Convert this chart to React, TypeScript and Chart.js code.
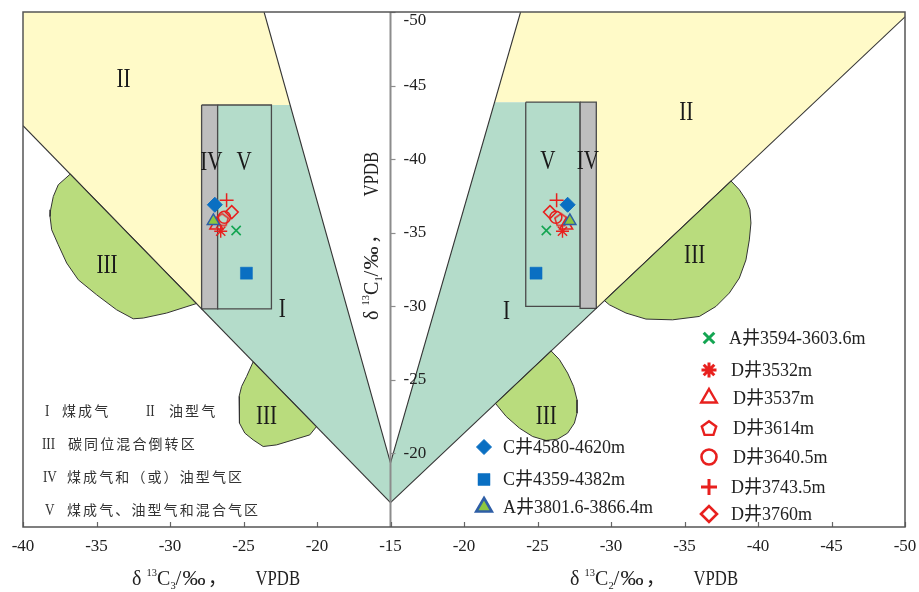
import React, { useEffect, useRef } from 'react';
import { Chart, registerables } from 'chart.js';
import { drawPoint } from 'chart.js/helpers';

Chart.register(...registerables);

// ---------- axes ----------
const C1_MIN = -50;
const C1_MAX = -15;
const C3_TICKS = [-40, -35, -30, -25, -20, -15];
const C2_TICKS = [-20, -25, -30, -35, -40, -45, -50];
const C1_TICKS = [-50, -45, -40, -35, -30, -25, -20];

// ---------- samples ----------
const SAMPLE_NAMES = [
  'A井3594-3603.6m', 'D井3532m', 'D井3537m', 'D井3614m', 'D井3640.5m',
  'D井3743.5m', 'D井3760m', 'C井4580-4620m', 'C井4359-4382m', 'A井3801.6-3866.4m',
];
const SAMPLE_C1 = [-35.15, -35.1, -35.5, -35.9, -36.05, -37.2, -36.4, -36.9, -32.25, -35.8];
const SAMPLE_C2 = [-25.6, -26.7, -26.95, -26.6, -26.25, -26.3, -25.85, -27.05, -24.9, -27.2];
const SAMPLE_C3 = [-25.5, -26.55, -26.85, -26.45, -26.3, -26.15, -25.8, -26.95, -24.8, -27.05];

// ---------- regions (left: [δ13C3, δ13C1], right: [δ13C2, δ13C1]) ----------
const L_OIL = [[-40, -50], [-23.6, -50], [-21.83, -43.68], [-27.85, -43.68], [-27.85, -29.83], [-40, -42.28]];
const L_COAL = [[-27.85, -43.68], [-21.83, -43.68], [-15, -19.36], [-15, -16.66], [-27.85, -29.83]];
const L_IV = [[-27.85, -43.68], [-26.76, -43.68], [-26.76, -29.83], [-27.85, -29.83]];
const L_V = [[-26.76, -43.68], [-23.1, -43.68], [-23.1, -29.83], [-26.76, -29.83]];
const L_MIX_UP = [[-36.78, -38.99], [-37.6, -38.26], [-37.94, -37.46], [-38.12, -36.56], [-38.16, -36.1], [-38.05, -35.2], [-37.6, -34.18], [-37.03, -32.94], [-36.24, -31.8], [-34.99, -30.78], [-33.63, -29.76], [-32.5, -29.15], [-31.82, -29.2], [-30.23, -29.54], [-28.19, -30.19]];
const L_MIX_LOW = [[-24.34, -26.23], [-24.79, -25.23], [-25.13, -24.55], [-25.3, -23.87], [-25.3, -22.96], [-25.25, -22.06], [-24.91, -21.38], [-24.34, -20.92], [-23.66, -20.47], [-22.75, -20.58], [-21.62, -20.92], [-20.49, -21.26], [-20.03, -21.83]];
const L_LINE_A = [[-40, -42.28], [-15, -16.66]];
const L_LINE_B = [[-23.6, -50], [-15, -19.36]];

const R_OIL = [[-23.85, -50], [-50, -50], [-50, -49.67], [-29.0, -29.86], [-29.0, -43.87], [-22.08, -43.87]];
const R_COAL = [[-22.08, -43.87], [-29.0, -43.87], [-29.0, -29.86], [-15, -16.66], [-15, -19.36]];
const R_V = [[-24.2, -43.87], [-27.9, -43.87], [-27.9, -30.0], [-24.2, -30.0]];
const R_IV = [[-27.9, -43.87], [-29.0, -43.87], [-29.0, -29.86], [-27.9, -29.86]];
const R_MIX_UP = [[-38.16, -38.52], [-38.73, -37.92], [-39.18, -37.24], [-39.45, -36.56], [-39.52, -35.66], [-39.41, -34.51], [-39.18, -33.15], [-38.73, -31.92], [-38.05, -30.9], [-37.14, -29.99], [-36.01, -29.31], [-34.19, -29.08], [-32.38, -29.13], [-31.02, -29.54], [-29.89, -30.1], [-29.55, -30.39]];
const R_MIX_LOW = [[-25.92, -26.97], [-26.49, -26.38], [-27.05, -25.46], [-27.46, -24.55], [-27.69, -23.64], [-27.69, -22.74], [-27.51, -22.06], [-27.05, -21.38], [-26.37, -20.97], [-25.58, -20.88], [-24.67, -21.15], [-23.77, -21.72], [-22.87, -22.51], [-22.14, -23.4]];
const R_LINE_A = [[-15, -16.66], [-50, -49.67]];
const R_LINE_B = [[-15, -19.36], [-23.85, -50]];

// region labels
const L_LABELS: [string, number, number][] = [['II', -33.17, -45.4], ['IV', -27.19, -39.76], ['V', -24.96, -39.76], ['III', -34.29, -32.77], ['I', -22.37, -29.76], ['III', -23.43, -22.47]];
const R_LABELS: [string, number, number][] = [['II', -35.12, -43.13], ['V', -25.71, -39.84], ['IV', -28.43, -39.84], ['III', -35.69, -33.39], ['I', -22.89, -29.65], ['III', -25.6, -22.51]];

// key text
const KEY_ROWS: [string, string][][] = [
  [['I', '煤成气'], ['II', '油型气']],
  [['III', '碳同位混合倒转区']],
  [['IV', '煤成气和（或）油型气区']],
  [['V', '煤成气、油型气和混合气区']],
];

// ---------- helpers ----------
const toLeft = (p: number[]) => ({ x: p[0] + 40, y: p[1] });
const toRight = (p: number[]) => ({ x: 10 - p[0], y: p[1] });

const SERIF = '"Liberation Serif", "Times New Roman", serif';
const CJK = '"Noto Sans CJK SC", sans-serif';
const MIXED = '"Liberation Serif", "Noto Sans CJK SC", serif';

const YELLOW = '#fffac8';
const TEAL = '#b4dcca';
const GREEN = '#b9dc7d';
const GRAY = '#bebebe';
const EDGE = '#333333';
const RED = '#e8201e';
const BLUE = '#0a6fc2';

function makePentagon(size: number, color: string, lw: number) {
  const c = document.createElement('canvas');
  c.width = size;
  c.height = size;
  const g = c.getContext('2d')!;
  g.strokeStyle = color;
  g.lineWidth = lw;
  g.lineJoin = 'miter';
  const r = size / 2 - lw;
  const cy = size / 2 + r * 0.1;
  g.beginPath();
  for (let i = 0; i < 5; i++) {
    const a = -Math.PI / 2 + (i * 2 * Math.PI) / 5;
    const px = size / 2 + r * Math.cos(a);
    const py = cy + r * Math.sin(a);
    if (i === 0) g.moveTo(px, py);
    else g.lineTo(px, py);
  }
  g.closePath();
  g.stroke();
  return c;
}

function polygon(points: number[][], conv: (p: number[]) => any, fill: string, border = 'rgba(0,0,0,0)', bw = 0) {
  const pts = points.map(conv);
  return {
    type: 'line',
    data: [...pts, pts[0]],
    fill: 'shape',
    backgroundColor: fill,
    borderColor: border,
    borderWidth: bw,
    pointRadius: 0,
    tension: 0,
    borderJoinStyle: 'miter',
  };
}

function segment(points: number[][], conv: (p: number[]) => any) {
  return {
    type: 'line',
    data: points.map(conv),
    fill: false,
    borderColor: EDGE,
    borderWidth: 1.1,
    pointRadius: 0,
    tension: 0,
  };
}

export default function App() {
  const ref = useRef<HTMLCanvasElement | null>(null);

  useEffect(() => {
    document.body.style.margin = '0';
    const canvas = ref.current!;

    const pentPlot = makePentagon(16, RED, 1.5);
    const pentKey = makePentagon(20, RED, 2.4);

    const STYLES: any[] = [
      { ps: 'crossRot', r: 6.5, bg: 'rgba(0,0,0,0)', bc: '#14a552', bw: 1.6, kps: 'crossRot', kr: 7.5, kbw: 3 },
      { ps: 'star', r: 6.5, bg: 'rgba(0,0,0,0)', bc: RED, bw: 1.4, kps: 'star', kr: 7.5, kbw: 3 },
      { ps: 'triangle', r: 7.5, bg: 'rgba(0,0,0,0)', bc: RED, bw: 1.5, kps: 'triangle', kr: 9, kbw: 2.4 },
      { ps: pentPlot, r: 7, bg: 'rgba(0,0,0,0)', bc: RED, bw: 1.5, kps: pentKey, kr: 9, kbw: 2.4 },
      { ps: 'circle', r: 6, bg: 'rgba(0,0,0,0)', bc: RED, bw: 1.5, kps: 'circle', kr: 7.5, kbw: 2.6 },
      { ps: 'cross', r: 7, bg: 'rgba(0,0,0,0)', bc: RED, bw: 1.5, kps: 'cross', kr: 8, kbw: 3 },
      { ps: 'rectRot', r: 6.5, bg: 'rgba(0,0,0,0)', bc: RED, bw: 1.5, kps: 'rectRot', kr: 8, kbw: 2.6 },
      { ps: 'rectRot', r: 7.5, bg: BLUE, bc: BLUE, bw: 1, kps: 'rectRot', kr: 7.5, kbw: 1 },
      { ps: 'rect', r: 8.5, bg: BLUE, bc: BLUE, bw: 0.5, kps: 'rect', kr: 8.5, kbw: 0.5 },
      { ps: 'triangle', r: 7, bg: '#8dc640', bc: '#2e5ea6', bw: 1.5, kps: 'triangle', kr: 9, kbw: 2.6 },
    ];

    const layers: any[] = [
      polygon(L_OIL, toLeft, YELLOW),
      polygon(R_OIL, toRight, YELLOW),
      polygon(L_COAL, toLeft, TEAL),
      polygon(R_COAL, toRight, TEAL),
      polygon(L_MIX_UP, toLeft, GREEN, EDGE, 1),
      polygon(L_MIX_LOW, toLeft, GREEN, EDGE, 1),
      polygon(R_MIX_UP, toRight, GREEN, EDGE, 1),
      polygon(R_MIX_LOW, toRight, GREEN, EDGE, 1),
      polygon(L_IV, toLeft, GRAY, '#4a4a4a', 1.3),
      polygon(L_V, toLeft, TEAL, '#4a4a4a', 1.3),
      polygon(R_V, toRight, TEAL, '#4a4a4a', 1.3),
      polygon(R_IV, toRight, GRAY, '#4a4a4a', 1.3),
      segment(L_LINE_A, toLeft),
      segment(L_LINE_B, toLeft),
      segment(R_LINE_A, toRight),
      segment(R_LINE_B, toRight),
    ];

    const drawOrder = [6, 4, 3, 2, 5, 1, 0, 9, 8, 7];
    drawOrder.forEach((i) => {
      const s = STYLES[i];
      layers.push({
        type: 'line',
        label: SAMPLE_NAMES[i],
        data: [toLeft([SAMPLE_C3[i], SAMPLE_C1[i]]), toRight([SAMPLE_C2[i], SAMPLE_C1[i]])],
        showLine: false,
        fill: false,
        pointStyle: s.ps,
        pointRadius: s.r,
        pointBackgroundColor: s.bg,
        pointBorderColor: s.bc,
        pointBorderWidth: s.bw,
      });
    });

    const N = layers.length;
    layers.forEach((d, i) => (d.order = N - i));

    const textRuns = (sub: string) => [
      { t: 'δ', dx: 0, size: 21, dy: 0, sx: 0.95 },
      { t: '13', dx: 14.5, size: 11, dy: -9, sx: 0.95 },
      { t: 'C', dx: 25, size: 21, dy: 0, sx: 0.95 },
      { t: sub, dx: 38.5, size: 11, dy: 4, sx: 0.95 },
      { t: '/', dx: 43.5, size: 21, dy: 0, sx: 1 },
      { t: '‰', dx: 50.5, size: 21, dy: 0, sx: 1.1 },
      { t: '，', dx: 76, size: 19, dy: 0, sx: 1, cjk: true },
      { t: 'VPDB', dx: 123.5, size: 22, dy: 0, sx: 0.76 },
    ];

    const drawRuns = (ctx: CanvasRenderingContext2D, runs: any[], x0: number, y0: number, rotate: boolean) => {
      ctx.save();
      ctx.translate(x0, y0);
      if (rotate) ctx.rotate(-Math.PI / 2);
      ctx.fillStyle = '#222';
      ctx.textAlign = 'left';
      ctx.textBaseline = 'alphabetic';
      for (const r of runs) {
        ctx.save();
        ctx.translate(r.dx, r.dy);
        ctx.scale(r.sx, 1);
        ctx.font = `${r.size}px ${r.cjk ? CJK : SERIF}`;
        ctx.fillText(r.t, 0, 0);
        ctx.restore();
      }
      ctx.restore();
    };

    const spaced = (ctx: CanvasRenderingContext2D, text: string, x: number, y: number, pitch: number) => {
      let cx = x;
      for (const ch of Array.from(text)) {
        ctx.fillText(ch, cx, y);
        cx += pitch;
      }
    };

    const decor = {
      id: 'decor',
      afterDatasetsDraw(chart: any) {
        const { ctx, chartArea: a } = chart;
        const xs = chart.scales.x;
        const ys = chart.scales.y;
        ctx.save();
        const cx = xs.getPixelForValue(toLeft([-15, 0]).x);
        ctx.strokeStyle = '#8c8c8c';
        ctx.lineWidth = 2;
        ctx.beginPath();
        ctx.moveTo(cx, a.top);
        ctx.lineTo(cx, a.bottom);
        ctx.stroke();
        ctx.lineWidth = 1.2;
        for (const v of C1_TICKS) {
          const py = Math.round(ys.getPixelForValue(v)) + 0.5;
          ctx.beginPath();
          ctx.moveTo(cx, py);
          ctx.lineTo(cx + 5, py);
          ctx.stroke();
        }
        const xticks = [...C3_TICKS.map((v) => toLeft([v, 0]).x), ...C2_TICKS.map((v) => toRight([v, 0]).x)];
        ctx.strokeStyle = '#666';
        for (const u of xticks) {
          const px = Math.round(xs.getPixelForValue(u)) + 0.5;
          ctx.beginPath();
          ctx.moveTo(px, a.bottom);
          ctx.lineTo(px, a.bottom - 5);
          ctx.stroke();
        }
        ctx.strokeStyle = '#555';
        ctx.lineWidth = 1.5;
        ctx.strokeRect(a.left, a.top, a.right - a.left, a.bottom - a.top);
        ctx.restore();
      },
      afterDraw(chart: any) {
        const { ctx, chartArea: a } = chart;
        const xs = chart.scales.x;
        const ys = chart.scales.y;
        ctx.save();
        ctx.fillStyle = '#222';
        // x tick labels
        ctx.font = `17px ${SERIF}`;
        ctx.textAlign = 'center';
        ctx.textBaseline = 'middle';
        C3_TICKS.forEach((v) => ctx.fillText(String(v), xs.getPixelForValue(toLeft([v, 0]).x), a.bottom + 20));
        C2_TICKS.forEach((v) => ctx.fillText(String(v), xs.getPixelForValue(toRight([v, 0]).x), a.bottom + 20));
        // y tick labels
        const cx = xs.getPixelForValue(toLeft([-15, 0]).x);
        ctx.textAlign = 'left';
        C1_TICKS.forEach((v) => {
          const py = Math.max(ys.getPixelForValue(v), a.top + 9);
          ctx.fillText(String(v), cx + 13, py);
        });
        // region labels
        const roman = (t: string, px: number, py: number, size: number, sx: number) => {
          ctx.save();
          ctx.translate(px, py);
          ctx.scale(sx, 1);
          ctx.font = `${size}px ${SERIF}`;
          ctx.fillText(t, 0, 0);
          ctx.restore();
        };
        ctx.textAlign = 'center';
        ctx.textBaseline = 'middle';
        ctx.fillStyle = '#1a1a1a';
        L_LABELS.forEach(([t, c3, c1]) => {
          const p = toLeft([c3, c1]);
          roman(t, xs.getPixelForValue(p.x), ys.getPixelForValue(p.y), 27, 0.78);
        });
        R_LABELS.forEach(([t, c2, c1]) => {
          const p = toRight([c2, c1]);
          roman(t, xs.getPixelForValue(p.x), ys.getPixelForValue(p.y), 27, 0.78);
        });
        // key (bottom left)
        ctx.textAlign = 'left';
        ctx.fillStyle = '#333';
        const rowY = [411, 443.5, 476.5, 509.5];
        const romanX = [[45, 146], [42], [43], [45]];
        const textX = [[62, 169], [68], [67], [67]];
        KEY_ROWS.forEach((row, ri) => {
          row.forEach(([num, txt], ci) => {
            ctx.save();
            ctx.translate(romanX[ri][ci], rowY[ri] + 1);
            ctx.scale(0.82, 1);
            ctx.font = `16px ${SERIF}`;
            ctx.fillText(num, 0, 0);
            ctx.restore();
            ctx.font = `14px ${CJK}`;
            spaced(ctx, txt, textX[ri][ci], rowY[ri], 16.1);
          });
        });
        // sample legend
        const keyPos: Record<number, [number, number, number]> = {
          7: [484, 503, 447], 8: [484, 503, 479.5], 9: [484, 503, 507],
          0: [709, 729, 338], 1: [709, 731, 370], 2: [709, 733, 398], 3: [709, 733, 428],
          4: [709, 733, 457], 5: [709, 731, 487], 6: [709, 731, 514],
        };
        Object.keys(keyPos).forEach((k) => {
          const i = Number(k);
          const [mx, tx, ty] = keyPos[i];
          const s = STYLES[i];
          ctx.save();
          ctx.fillStyle = s.bg;
          ctx.strokeStyle = s.bc;
          ctx.lineWidth = s.kbw;
          drawPoint(ctx, { pointStyle: s.kps, rotation: 0, radius: s.kr, borderWidth: s.kbw } as any, mx, ty);
          ctx.restore();
          ctx.fillStyle = '#222';
          ctx.font = `18px ${MIXED}`;
          ctx.textAlign = 'left';
          ctx.textBaseline = 'middle';
          ctx.fillText(SAMPLE_NAMES[i], tx, ty + 1);
        });
        ctx.restore();
        // axis titles
        drawRuns(ctx, textRuns('3'), 132, 584.5, false);
        drawRuns(ctx, textRuns('2'), 570, 584.5, false);
        drawRuns(ctx, textRuns('1'), 378, 320, true);
      },
    };

    const chart = new Chart(canvas, {
      type: 'line',
      data: { datasets: layers },
      options: {
        responsive: false,
        animation: false,
        devicePixelRatio: 1,
        events: [],
        layout: { padding: { left: 23, top: 12, right: 14, bottom: 65 } },
        scales: {
          x: { type: 'linear', min: 0, max: 60, display: false },
          y: { type: 'linear', min: C1_MIN, max: C1_MAX, reverse: true, display: false },
        },
        plugins: {
          legend: { display: false },
          tooltip: { enabled: false },
          title: { display: false },
        },
      } as any,
      plugins: [decor],
    } as any);

    return () => chart.destroy();
  }, []);

  return (
    <div style={{ width: 919, height: 592, background: '#fff' }}>
      <canvas ref={ref} width={919} height={592} style={{ display: 'block' }} />
    </div>
  );
}
